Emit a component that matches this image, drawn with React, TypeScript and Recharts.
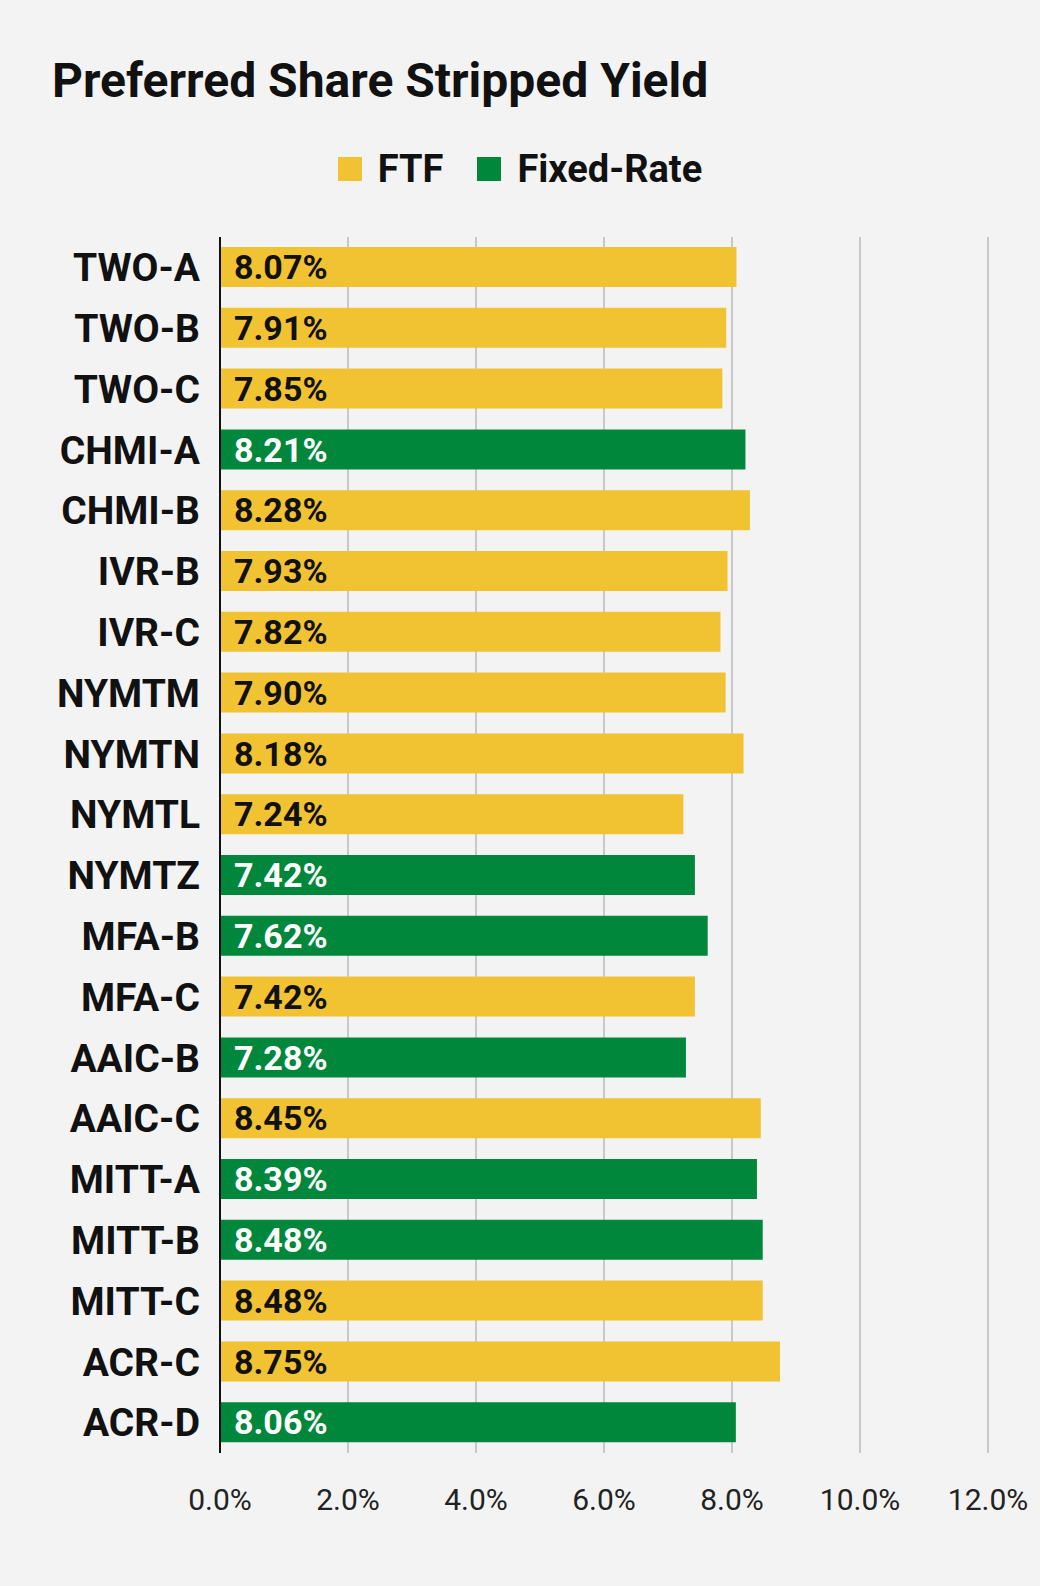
import { BarChart, Bar, XAxis, YAxis, CartesianGrid, Cell, LabelList } from 'recharts'

const tickers = ['TWO-A','TWO-B','TWO-C','CHMI-A','CHMI-B','IVR-B','IVR-C','NYMTM','NYMTN','NYMTL','NYMTZ','MFA-B','MFA-C','AAIC-B','AAIC-C','MITT-A','MITT-B','MITT-C','ACR-C','ACR-D']
const yields = [8.07,7.91,7.85,8.21,8.28,7.93,7.82,7.90,8.18,7.24,7.42,7.62,7.42,7.28,8.45,8.39,8.48,8.48,8.75,8.06]
const kinds = ['FTF','FTF','FTF','Fixed','FTF','FTF','FTF','FTF','FTF','FTF','Fixed','Fixed','FTF','Fixed','FTF','Fixed','Fixed','FTF','FTF','Fixed']
const xTicks = [0, 2, 4, 6, 8, 10, 12]

const YELLOW = '#f1c232'
const GREEN = '#00873c'

const data = tickers.map((t, i) => ({ name: t, value: yields[i], kind: kinds[i] }))

function ValueLabel(props: any) {
  const { x, y, height, index } = props
  const fixed = data[index].kind === 'Fixed'
  return (
    <text x={x + 14} y={y + height / 2} dy="0.36em" fontSize={34} fontWeight={700}
      fill={fixed ? '#fff' : '#111'} fontFamily="Roboto">
      {data[index].value.toFixed(2)}%
    </text>
  )
}

export default function App() {
  return (
    <div style={{ position: 'absolute', left: 0, top: 0, width: 1040, height: 1586, background: '#f3f3f3', fontFamily: 'Roboto' }}>
      <div style={{ position: 'absolute', left: 52, top: 52, fontSize: 48, fontWeight: 700, color: '#111' }}>
        Preferred Share Stripped Yield
      </div>
      <div style={{ position: 'absolute', left: 0, width: 1040, top: 147, display: 'flex', justifyContent: 'center', gap: 34, fontSize: 38, fontWeight: 700, color: '#111' }}>
        <span style={{ display: 'flex', alignItems: 'center', gap: 16 }}>
          <span style={{ width: 24, height: 24, background: YELLOW, display: 'inline-block' }} />FTF
        </span>
        <span style={{ display: 'flex', alignItems: 'center', gap: 16 }}>
          <span style={{ width: 24, height: 24, background: GREEN, display: 'inline-block' }} />Fixed-Rate
        </span>
      </div>
      <BarChart width={1040} height={1586} data={data} layout="vertical"
        margin={{ top: 237, right: 52, bottom: 83, left: 0 }}>
        <CartesianGrid horizontal={false} stroke="#c8c8c8" strokeWidth={2} />
        <XAxis type="number" domain={[0, 12]} ticks={xTicks} axisLine={false} tickLine={false}
          tickFormatter={(v: number) => `${v.toFixed(1)}%`} height={50}
          tick={{ fontSize: 30, fill: '#222', fontFamily: 'Roboto' }} tickMargin={30} />
        <YAxis type="category" dataKey="name" width={220} axisLine={{ stroke: '#111', strokeWidth: 2 }}
          tickLine={false} tickMargin={14}
          tick={{ fontSize: 39, fontWeight: 700, fill: '#111', fontFamily: 'Roboto' }} />
        <Bar dataKey="value" isAnimationActive={false} barSize={40}>
          {data.map((d, i) => (
            <Cell key={i} fill={d.kind === 'Fixed' ? GREEN : YELLOW} />
          ))}
          <LabelList dataKey="value" content={ValueLabel} />
        </Bar>
      </BarChart>
    </div>
  )
}
